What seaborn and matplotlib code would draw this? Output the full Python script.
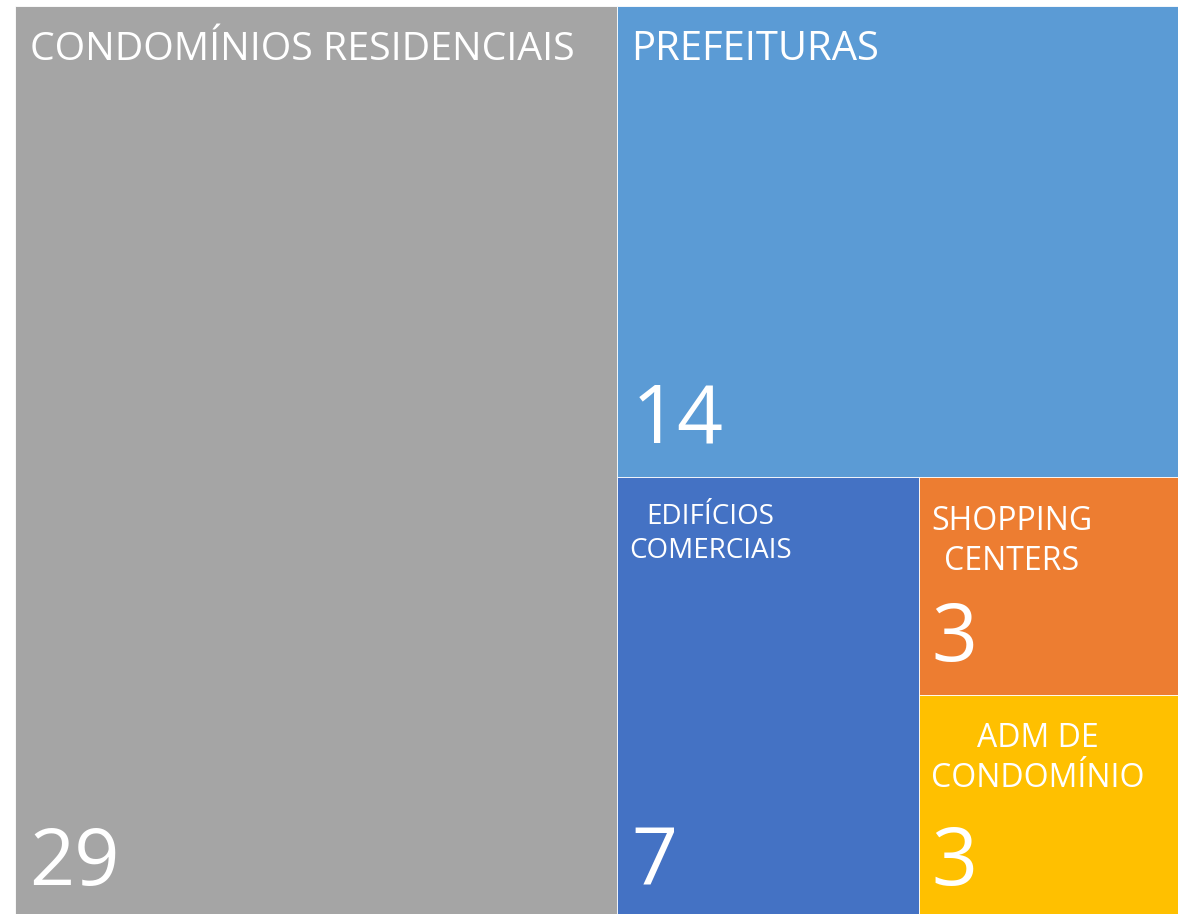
import matplotlib
matplotlib.use("Agg")
import matplotlib.pyplot as plt
import seaborn as sns

# treemap data
categories = ["CONDOMÍNIOS RESIDENCIAIS", "PREFEITURAS", "EDIFÍCIOS\nCOMERCIAIS",
              "SHOPPING\nCENTERS", "ADM DE\nCONDOMÍNIO"]
values = [29, 14, 7, 3, 3]
colors = ["#A5A5A5", "#5B9BD5", "#4472C4", "#ED7D31", "#FFC000"]

label_sizes = [28.3, 28.8, 20, 23, 23]
number_sizes = [57, 58, 58, 58, 58]

sns.set_theme(style="white")
plt.rcParams["font.family"] = ["Open Sans", "DejaVu Sans"]


# simple slice-and-dice: peel off first item, alternating direction
def layout(vals, x, y, w, h, vertical=True):
    rects = []
    if not vals:
        return rects
    if len(vals) == 1:
        return [(x, y, w, h)]
    frac = vals[0] / sum(vals)
    if vertical:
        rects.append((x, y, w * frac, h))
        rects += layout(vals[1:], x + w * frac, y, w * (1 - frac), h, False)
    else:
        rects.append((x, y + h * (1 - frac), w, h * frac))
        rects += layout(vals[1:], x, y, w, h * (1 - frac), True)
    return rects


rects = layout(values, 0, 0, 1, 1)

fig = plt.figure(figsize=(11.78, 9.14), dpi=100)
ax = fig.add_axes([15 / 1178, 0, 1163 / 1178, 908 / 914])

for (x, y, w, h), c in zip(rects, colors):
    ax.bar(x, h, width=w, bottom=y, align="edge", color=c,
           edgecolor="white", linewidth=0.6)

px = 0.72  # pixels -> points
# offsets to the baseline of the last label line
label_offsets = [(15, -54), (14, -54), (12, -81), (12, -93), (12, -92)]
number_offsets = [(14, 29), (14, 34), (14, 29), (12, 34), (12, 29)]

for i, ((x, y, w, h), cat, v) in enumerate(zip(rects, categories, values)):
    dx, dy = label_offsets[i]
    ax.annotate(cat, xy=(x, y + h), xytext=(dx * px, dy * px), textcoords="offset points",
                ha="left", va="baseline", multialignment="center", color="white",
                fontsize=label_sizes[i], linespacing=1.28)
    ndx, ndy = number_offsets[i]
    ax.annotate(str(v), xy=(x, y), xytext=(ndx * px, ndy * px), textcoords="offset points",
                ha="left", va="baseline", color="white", fontsize=number_sizes[i])

ax.set_xlim(0, 1)
ax.set_ylim(0, 1)
ax.axis("off")

fig.savefig("out.png", dpi=100)
